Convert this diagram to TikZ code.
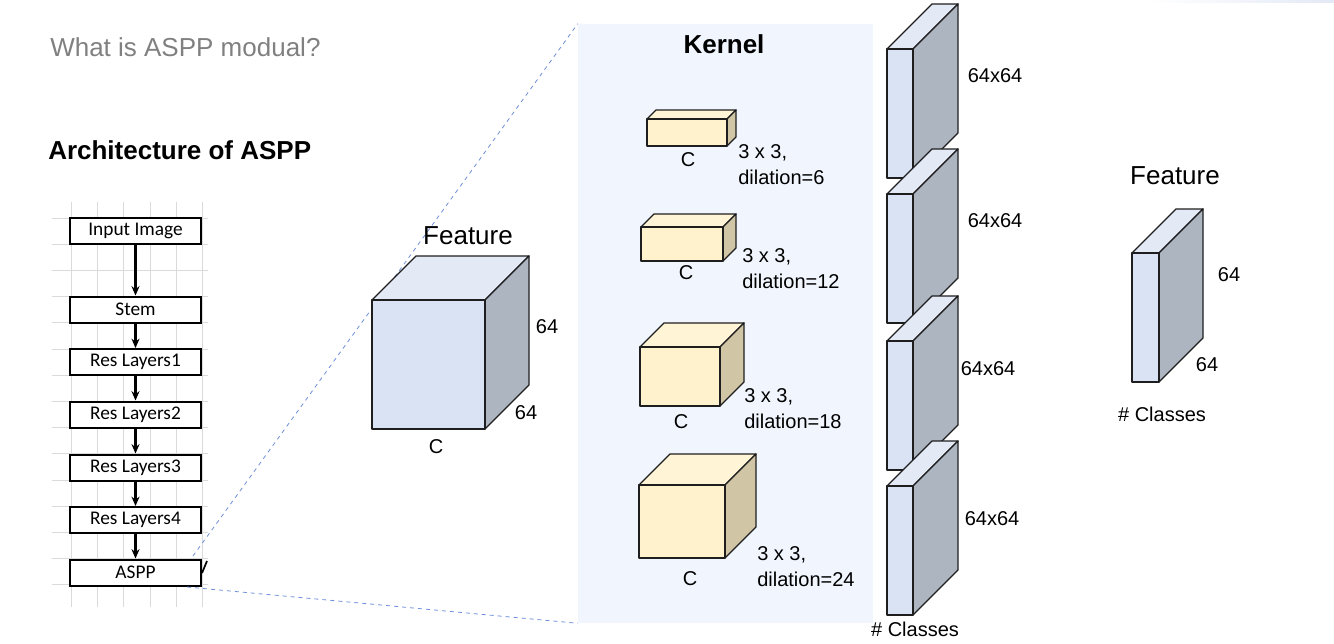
\documentclass[tikz,border=0pt]{standalone}
\usepackage{fontspec}
\setmainfont{Liberation Sans}
\newfontfamily\boxfont{Carlito}
\usepackage{xcolor}
\usetikzlibrary{positioning,arrows.meta,calc}
\definecolor{fFront}{HTML}{DAE3F3}
\definecolor{fTop}{HTML}{E3E9F5}
\definecolor{fSide}{HTML}{ADB5C1}
\definecolor{kFront}{HTML}{FFF2CC}
\definecolor{kTop}{HTML}{FFF4D6}
\definecolor{kSide}{HTML}{D0C6A6}
\definecolor{panelBg}{HTML}{F1F5FD}
\definecolor{gridGray}{HTML}{DADADA}
\definecolor{zoomBlue}{HTML}{6F8FD8}
\definecolor{edgeDark}{HTML}{1E1E1E}
% cuboid: x, y (front top-left), width, height, depth, front, top, side
\newcommand{\cuboid}[8]{%
  \draw[cubeline, fill=#7] (#1,#2) -- ++(#5,-#5) -- ++(#3,0) -- ++(-#5,#5) -- cycle;
  \draw[cubeline, fill=#8] ({#1+#3},#2) -- ++(#5,-#5) -- ++(0,#4) -- ++(-#5,#5) -- cycle;
  \draw[cubeline, fill=#6] (#1,#2) rectangle ++(#3,#4);
}
\begin{document}
\begin{tikzpicture}[x=0.75pt, y=-0.75pt,
  font=\fontsize{15}{19.5}\selectfont,
  cubeline/.style={draw=edgeDark, line width=1pt, line join=round},
  layer/.style={draw=black, line width=1.5pt, fill=white, minimum width=98.3pt, minimum height=19.5pt, inner sep=0pt, font=\boxfont\fontsize{14.5}{16}\selectfont},
  flow/.style={-{Stealth[length=7pt,width=6pt]}, line width=1.6pt},
  zoomline/.style={zoomBlue, dashed, line width=0.6pt},
  title/.style={font=\bfseries\fontsize{19.5}{22}\selectfont}]
\useasboundingbox (0,0) rectangle (1334,643);
\fill[left color=white, right color=fTop] (1150,0) rectangle (1334,2.5);

% headings
\node[anchor=west, inner sep=0pt, text=gray, font=\fontsize{19.5}{22}\selectfont] (question) at (50,47) {What is ASPP modual?};
\node[anchor=west, inner sep=0pt, title] (archTitle) at (48,150) {Architecture of ASPP};

% grid behind the layer stack
\foreach \gx in {71,97,123,150,176,202}
  \draw[gridGray, line width=0.6pt] (\gx,202) -- (\gx,607);
\foreach \k in {0,...,14}
  \draw[gridGray, line width=0.6pt] (52,218+26.2*\k) -- (208,218+26.2*\k);

% layer stack
\node[layer] (input) at (135.5,231) {Input Image};
\node[layer] (stem) at (135.5,309.5) {Stem};
\node[layer] (res1) at (135.5,362) {Res Layers1};
\node[layer] (res2) at (135.5,414.5) {Res Layers2};
\node[layer] (res3) at (135.5,467.5) {Res Layers3};
\node[layer] (res4) at (135.5,520) {Res Layers4};
\node[layer] (aspp) at (135.5,572.5) {ASPP};
\draw[flow] (input) -- (stem);
\draw[flow] (stem) -- (res1);
\draw[flow] (res1) -- (res2);
\draw[flow] (res2) -- (res3);
\draw[flow] (res3) -- (res4);
\draw[flow] (res4) -- (aspp);
\coordinate (tickA) at (202,573);
\coordinate (tickB) at (207,561);
\draw[line width=1.3pt] (tickA) -- (tickB);

% kernel panel
\node[fill=panelBg, minimum width=221.25pt, minimum height=449.25pt, inner sep=0pt] (panel) at (725.5,323.5) {};
\node[title] (kernelTitle) at (724,44) {Kernel};
\coordinate (zoomTop) at (193,556);
\coordinate (zoomBot) at (187,587);
\draw[zoomline] (zoomTop) -- (panel.north west);
\draw[zoomline] (zoomBot) -- (panel.south west);

% input feature
\cuboid{372}{300}{113}{129}{44}{fFront}{fTop}{fSide}
\node[font=\fontsize{19.5}{22}\selectfont] (featIn) at (468,236) {Feature};
\node (featH) at (547,327) {64};
\node (featW) at (526,413) {64};
\node (featC) at (436,447) {C};

% dilated kernels
\cuboid{647}{119}{80}{27}{9}{kFront}{kTop}{kSide}
\cuboid{641}{227}{82}{34}{13}{kFront}{kTop}{kSide}
\cuboid{640}{347}{80}{59}{24}{kFront}{kTop}{kSide}
\cuboid{639}{485}{86}{73}{31}{kFront}{kTop}{kSide}
\node (kc1) at (688,160) {C};
\node (kc2) at (686,273) {C};
\node (kc3) at (681,422) {C};
\node (kc4) at (690,579) {C};
\node[anchor=west, align=left, inner sep=0pt] (kl1) at (738,165) {3 x 3,\\dilation=6};
\node[anchor=west, align=left, inner sep=0pt] (kl2) at (742,269) {3 x 3,\\dilation=12};
\node[anchor=west, align=left, inner sep=0pt] (kl3) at (744,409) {3 x 3,\\dilation=18};
\node[anchor=west, align=left, inner sep=0pt] (kl4) at (757,567) {3 x 3,\\dilation=24};

% branch outputs
\foreach \sy/\lx/\ly in {49/995/76, 194/995/221, 341/988/369, 486/992/519}{
  \cuboid{887}{\sy}{26}{129}{45}{fFront}{fTop}{fSide}
  \node at (\lx,\ly) {64x64};
}
\node (branchCls) at (915,629) {\# Classes};

% output feature
\cuboid{1132}{253}{27}{129}{44}{fFront}{fTop}{fSide}
\node[font=\fontsize{19.5}{22}\selectfont] (featOut) at (1175,176) {Feature};
\node (outH) at (1229,275) {64};
\node (outW) at (1207,365) {64};
\node (outCls) at (1162,414) {\# Classes};
\end{tikzpicture}
\end{document}
